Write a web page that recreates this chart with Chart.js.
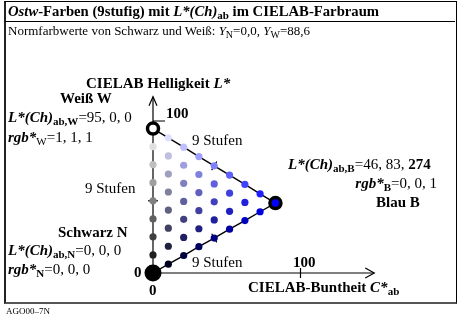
<!DOCTYPE html>
<html lang="de">
<head>
    <meta charset="UTF-8">
    <title>Ostw-Farben (9stufig) mit L*(Ch)ab im CIELAB-Farbraum</title>
    <script src="https://cdn.jsdelivr.net/npm/chart.js"></script>
    <style>
        body {
            margin: 0;
            width: 457px;
            height: 318px;
            overflow: hidden;
            background: white;
            font-family: 'Liberation Serif', 'Times New Roman', serif;
            color: black;
        }
        #wrap { position: relative; width: 457px; height: 318px; }
        canvas { position: absolute; left: 0; top: 0; }
        .frame {
            position: absolute;
            left: 4px; top: 1px;
            width: 450px; height: 300px;
            border-left: 2px solid #222;
            border-top: 1px solid #000;
            border-right: 1px solid #000;
            border-bottom: 2px solid #555;
        }
        .sep { position: absolute; left: 5px; top: 21px; width: 450px; height: 1px; background: #000; }
        .t { position: absolute; white-space: nowrap; font-size: 15px; line-height: 16px; }
        .b { font-weight: bold; }
        .i { font-style: italic; }
        sub { font-size: 11px; vertical-align: -3px; line-height: 0; }
    </style>
</head>
<body>
<div id="wrap">
    <canvas id="chart" width="457" height="318"></canvas>
    <div class="frame"></div>
    <div class="sep"></div>

    <div class="t b" style="left:8px; top:3px; font-size:14.7px;"><span class="i">Ostw</span>-Farben (9stufig) mit <span class="i">L*(Ch)</span><sub>ab</sub> im CIELAB-Farbraum</div>
    <div class="t" style="left:8px; top:23px; font-size:13px;">Normfarbwerte von Schwarz und Weiß: <span class="i">Y</span><sub style="font-size:10px;">N</sub>=0,0, <span class="i">Y</span><sub style="font-size:10px;">W</sub>=88,6</div>

    <div class="t b" style="left:86px; top:75px;">CIELAB Helligkeit <span class="i">L*</span></div>
    <div class="t b" style="left:60px; top:90px;">Weiß W</div>
    <div class="t" style="left:8px; top:109px;"><span class="b i">L*(Ch)</span><sub class="b">ab,W</sub>=95, 0, 0</div>
    <div class="t" style="left:8px; top:129px;"><span class="b i">rgb*</span><sub>W</sub>=1, 1, 1</div>
    <div class="t b" style="left:166px; top:105px;">100</div>

    <div class="t" style="left:192px; top:132px;">9 Stufen</div>
    <div class="t" style="left:85px; top:180px;">9 Stufen</div>
    <div class="t" style="left:192px; top:254px;">9 Stufen</div>

    <div class="t" style="left:288px; top:156px;"><span class="b i">L*(Ch)</span><sub class="b">ab,B</sub>=46, 83, <span class="b">274</span></div>
    <div class="t" style="right:20px; top:175px;"><span class="b i">rgb*</span><sub class="b">B</sub>=0, 0, 1</div>
    <div class="t b" style="left:368px; top:194px; width:60px; text-align:center;">Blau B</div>

    <div class="t b" style="left:58px; top:224px;">Schwarz N</div>
    <div class="t" style="left:8px; top:242px;"><span class="b i">L*(Ch)</span><sub class="b">ab,N</sub>=0, 0, 0</div>
    <div class="t" style="left:8px; top:261px;"><span class="b i">rgb*</span><sub class="b">N</sub>=0, 0, 0</div>

    <div class="t b" style="left:134px; top:264px;">0</div>
    <div class="t b" style="left:149px; top:282px;">0</div>
    <div class="t b" style="left:293px; top:254px;">100</div>
    <div class="t b" style="left:248px; top:279px;">CIELAB-Buntheit <span class="i">C*</span><sub>ab</sub></div>

    <div class="t" style="left:6px; top:306px; font-size:9px; line-height:10px;">AGO00&ndash;7N</div>
</div>

<script>
    // CIELAB chroma C*ab for each column (steps of the blue share, 0..8 of 8)
    const stepChroma = [0, 10.4, 20.8, 31.1, 41.5, 51.9, 62.3, 72.6, 83];

    // lightness L* of the points in each column, from dark to light
    const stepLightness = [
        [0, 11.9, 23.8, 35.6, 47.5, 59.4, 71.3, 83.1, 95],
        [5.8, 17.6, 29.5, 41.4, 53.3, 65.1, 77.0, 88.9],
        [11.5, 23.4, 35.3, 47.1, 59.0, 70.9, 82.8],
        [17.3, 29.1, 41.0, 52.9, 64.8, 76.6],
        [23.0, 34.9, 46.8, 58.6, 70.5],
        [28.8, 40.6, 52.5, 64.4],
        [34.5, 46.4, 58.3],
        [40.3, 52.1],
        [46.0]
    ];

    // corner colours: Weiss W, Schwarz N, Blau B  (C*, L*)
    const cornerNames = ['W', 'N', 'B'];
    const cornerChroma = [0, 0, 83];
    const cornerLightness = [95, 0, 46];

    // axis extents and the tick at 100
    const axisEndChroma = 150;
    const axisEndLightness = 116;
    const axisTick = 100;

    const steps = 8;

    // collect all inner points with their colour (rgb* = w, w, w + c)
    const dots = [];
    const dotColors = [];
    stepChroma.forEach((c, k) => {
        stepLightness[k].forEach((l, j) => {
            const isCorner = (k === 0 && (j === 0 || j === steps)) || k === steps;
            if (isCorner) return;
            const w = j / steps, s = k / steps;
            dots.push({ x: c, y: l });
            const g = Math.round(255 * w);
            const bl = Math.round(255 * Math.min(1, w + s));
            dotColors.push(`rgb(${g}, ${g}, ${bl})`);
        });
    });

    // edges of the triangle: W -> B (column tops) and N -> B (column bottoms)
    const edgeTop = stepChroma.map((c, k) => ({ x: c, y: stepLightness[k][stepLightness[k].length - 1] }));
    const edgeBottom = stepChroma.map((c, k) => ({ x: c, y: stepLightness[k][0] }));

    // small tick marks at the middle step of each edge
    const mid = steps / 2;
    const midTicks = [
        { x: stepChroma[0], y: stepLightness[0][mid] },
        edgeTop[mid],
        edgeBottom[mid]
    ];

    const corners = cornerNames.map((n, i) => ({ x: cornerChroma[i], y: cornerLightness[i] }));

    const arrowPlugin = {
        id: 'arrows',
        afterDatasetsDraw(chart) {
            const { ctx, scales: { x, y } } = chart;
            const x0 = x.getPixelForValue(0), y0 = y.getPixelForValue(0);
            const xe = x.getPixelForValue(axisEndChroma);
            const ye = y.getPixelForValue(axisEndLightness);
            ctx.save();
            ctx.strokeStyle = '#000';
            ctx.lineWidth = 1.2;
            ctx.beginPath();
            // arrow heads
            ctx.moveTo(xe - 9, y0 - 5); ctx.lineTo(xe, y0); ctx.lineTo(xe - 9, y0 + 5);
            ctx.moveTo(x0 - 4, ye + 9); ctx.lineTo(x0, ye); ctx.lineTo(x0 + 4, ye + 9);
            // ticks at 100
            const xt = x.getPixelForValue(axisTick);
            ctx.moveTo(xt, y0 - 5); ctx.lineTo(xt, y0 + 5);
            const yt = y.getPixelForValue(axisTick);
            ctx.moveTo(x0, yt); ctx.lineTo(x0 + 12, yt);
            ctx.stroke();
            ctx.restore();
        }
    };

    new Chart(document.getElementById('chart'), {
        type: 'scatter',
        data: {
            datasets: [
                {
                    label: 'corners',
                    data: corners,
                    order: 0,
                    clip: false,
                    pointRadius: [5.5, 8.5, 5.5],
                    pointBackgroundColor: ['#ffffff', '#000000', '#0000ff'],
                    pointBorderColor: '#000',
                    pointBorderWidth: [3.5, 0, 3.5]
                },
                {
                    label: 'steps',
                    data: dots,
                    order: 1,
                    clip: false,
                    pointRadius: 3.6,
                    pointBorderWidth: 0,
                    pointBackgroundColor: dotColors
                },
                {
                    label: 'midTicks',
                    data: midTicks,
                    order: 2,
                    clip: false,
                    pointStyle: 'line',
                    pointRadius: 5,
                    pointBorderWidth: 1.2,
                    pointBorderColor: '#000',
                    rotation: [0, 120.6, 59.4]
                },
                {
                    label: 'edgeTop',
                    data: edgeTop,
                    order: 3,
                    clip: false,
                    showLine: true,
                    borderColor: '#000',
                    borderWidth: 1.4,
                    pointRadius: 0
                },
                {
                    label: 'edgeBottom',
                    data: edgeBottom,
                    order: 3,
                    clip: false,
                    showLine: true,
                    borderColor: '#000',
                    borderWidth: 1.4,
                    pointRadius: 0
                },
                {
                    label: 'axisC',
                    data: [{ x: 0, y: 0 }, { x: axisEndChroma, y: 0 }],
                    order: 4,
                    clip: false,
                    showLine: true,
                    borderColor: '#000',
                    borderWidth: 1.2,
                    pointRadius: 0
                },
                {
                    label: 'axisL',
                    data: [{ x: 0, y: 0 }, { x: 0, y: axisEndLightness }],
                    order: 4,
                    clip: false,
                    showLine: true,
                    borderColor: '#000',
                    borderWidth: 1.2,
                    pointRadius: 0
                }
            ]
        },
        options: {
            responsive: false,
            animation: false,
            devicePixelRatio: 1,
            layout: { padding: { left: 153, right: 2, top: 90.6, bottom: 45 } },
            scales: {
                x: { type: 'linear', min: 0, max: 200, display: false },
                y: { type: 'linear', min: 0, max: 120, display: false }
            },
            plugins: {
                legend: { display: false },
                tooltip: { enabled: false }
            }
        },
        plugins: [arrowPlugin]
    });
</script>
</body>
</html>
